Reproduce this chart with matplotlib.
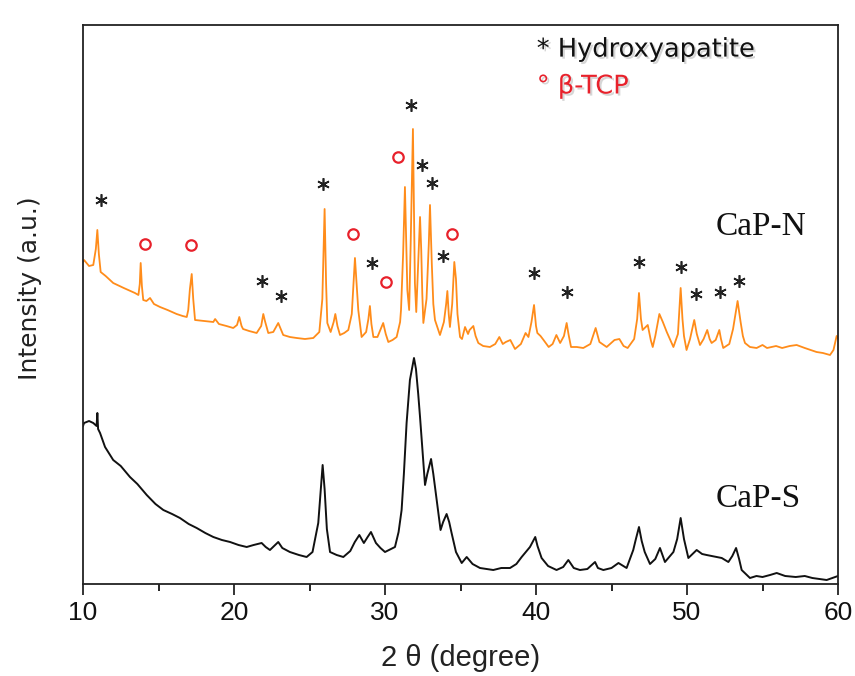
import matplotlib
matplotlib.use("Agg")
import matplotlib.pyplot as plt
import matplotlib.patheffects as pe
from matplotlib.ticker import MultipleLocator

# ---- data (intensity in arbitrary units) ----
capn_theta = [10.0, 10.07, 10.4, 10.68, 10.85, 10.95, 11.05, 11.17, 11.5, 12.0, 12.7, 13.44, 13.67, 13.76,
              13.82, 13.9, 13.99, 14.2, 14.44, 14.7, 15.1, 15.6, 16.2, 16.6, 16.87, 16.97, 17.08, 17.2, 17.3,
              17.42, 18.0, 18.63, 18.75, 19.0, 19.5, 19.95, 20.2, 20.35, 20.5, 20.6, 21.0, 21.5, 21.8, 21.94,
              22.05, 22.27, 22.6, 22.93, 23.26, 23.7, 24.15, 24.7, 25.25, 25.65, 25.85, 26.0, 26.1, 26.18,
              26.4, 26.6, 26.71, 26.85, 27.02, 27.3, 27.57, 27.8, 28.01, 28.12, 28.23, 28.45, 28.75, 28.9,
              29.0, 29.1, 29.23, 29.5, 29.88, 30.05, 30.22, 30.5, 30.77, 31.0, 31.06, 31.2, 31.32, 31.42,
              31.48, 31.6, 31.7, 31.85, 31.93, 31.98, 32.07, 32.2, 32.32, 32.4, 32.47, 32.54, 32.75, 32.9,
              32.98, 33.1, 33.2, 33.31, 33.64, 33.9, 34.05, 34.13, 34.22, 34.3, 34.45, 34.59, 34.7, 34.8,
              34.97, 35.1, 35.3, 35.5, 35.6, 35.85, 36.0, 36.18, 36.5, 36.95, 37.3, 37.57, 37.8, 38.0, 38.3,
              38.61, 39.0, 39.31, 39.5, 39.7, 39.87, 40.0, 40.09, 40.3, 40.5, 40.84, 41.1, 41.35, 41.6, 41.85,
              42.03, 42.15, 42.32, 42.7, 43.13, 43.6, 43.95, 44.2, 44.68, 45.2, 45.52, 45.8, 46.07, 46.5,
              46.7, 46.82, 46.95, 47.06, 47.4, 47.6, 47.73, 47.9, 48.17, 48.4, 48.66, 49.1, 49.4, 49.58,
              49.7, 49.8, 49.97, 50.2, 50.48, 50.65, 50.86, 51.1, 51.34, 51.5, 51.63, 51.9, 52.14, 52.25,
              52.4, 52.8, 53.05, 53.35, 53.55, 53.7, 53.84, 54.17, 54.61, 55.0, 55.3, 55.9, 56.3, 56.8,
              57.26, 57.8, 58.58, 59.0, 59.47, 59.7, 59.91, 60.0]
capn_int = [322, 324, 318, 319, 335, 354, 330, 312, 308, 301, 296, 291, 289, 300,
            321, 298, 284, 283, 286, 280, 277, 274, 270, 268, 267, 274, 295, 310, 285,
            264, 263, 262, 265, 260, 258, 256, 259, 267, 258, 255, 253, 251, 258, 270,
            263, 251, 252, 261, 249, 247, 246, 245, 246, 252, 285, 375, 300, 261,
            252, 262, 270, 258, 249, 251, 254, 270, 326, 300, 274, 247, 252, 265,
            278, 260, 247, 247, 261, 250, 242, 244, 247, 262, 274, 330, 397, 330,
            294, 274, 340, 455, 360, 301, 272, 320, 367, 334, 290, 261, 285, 340,
            379, 320, 280, 264, 249, 262, 280, 293, 270, 257, 280, 322, 305, 270,
            247, 245, 257, 250, 254, 258, 248, 241, 238, 237, 240, 247, 240, 242, 244,
            235, 240, 251, 247, 262, 279, 258, 251, 248, 244, 237, 240, 249, 241, 248,
            261, 250, 237, 237, 236, 240, 256, 242, 237, 244, 245, 238, 236, 245,
            265, 291, 265, 254, 259, 244, 237, 248, 270, 262, 252, 237, 250, 296,
            265, 248, 234, 245, 264, 250, 239, 245, 254, 245, 241, 244, 254, 245,
            236, 240, 255, 283, 262, 248, 241, 237, 236, 239, 236, 238, 236, 238,
            239, 236, 232, 231, 229, 234, 248, 246]

caps_theta = [10.0, 10.07, 10.4, 10.68, 10.9, 10.95, 11.0, 11.13, 11.46, 12.0, 12.5, 13.11, 13.6, 14.22,
              14.8, 15.32, 15.9, 16.42, 17.0, 17.53, 18.1, 18.63, 19.2, 19.74, 20.3, 20.84, 21.3, 21.83,
              22.1, 22.38, 22.93, 23.2, 23.7, 24.3, 24.81, 25.2, 25.58, 25.75, 25.87, 26.0, 26.15, 26.36,
              26.8, 27.24, 27.7, 28.0, 28.3, 28.6, 28.85, 29.07, 29.4, 29.7, 30.0, 30.66, 30.9, 31.1,
              31.25, 31.43, 31.65, 31.92, 32.05, 32.2, 32.32, 32.5, 32.65, 32.8, 33.05, 33.2, 33.42, 33.68,
              33.85, 34.08, 34.25, 34.41, 34.7, 35.08, 35.41, 35.8, 36.29, 37.17, 37.7, 38.28, 38.7, 39.05,
              39.6, 39.95, 40.1, 40.37, 40.8, 41.36, 41.8, 42.14, 42.5, 42.91, 43.4, 43.91, 44.1, 44.46,
              45.0, 45.46, 46.0, 46.44, 46.6, 46.82, 47.0, 47.2, 47.55, 47.9, 48.21, 48.54, 49.1, 49.35,
              49.58, 49.8, 50.09, 50.64, 51.0, 51.3, 51.96, 52.3, 52.74, 53.0, 53.25, 53.45, 53.62, 54.17,
              54.6, 55.0, 55.5, 55.94, 56.5, 57.2, 57.8, 58.3, 58.8, 59.25, 59.8, 60.0]
caps_int = [158, 161, 163, 161, 158, 171, 155, 151, 137, 124, 118, 107, 100, 89,
            80, 74, 70, 66, 60, 56, 51, 47, 44, 42, 39, 37, 39, 41,
            37, 34, 42, 36, 32, 29, 27, 32, 61, 95, 119, 95, 55, 32,
            29, 27, 33, 42, 49, 41, 47, 52, 41, 36, 32, 37, 52, 74,
            110, 161, 204, 226, 215, 190, 167, 130, 99, 110, 125, 110, 84, 54,
            62, 70, 62, 51, 32, 21, 27, 20, 16, 14, 16, 16, 20, 27,
            37, 47, 38, 26, 18, 14, 17, 24, 16, 14, 15, 22, 16, 14,
            16, 21, 16, 34, 44, 57, 43, 32, 20, 25, 36, 22, 32, 45,
            66, 45, 26, 34, 30, 29, 27, 26, 22, 28, 36, 25, 14, 6,
            8, 7, 9, 11, 8, 7, 8, 6, 5, 4, 7, 8]

# phase markers above CaP-N peaks
hap_theta = [11.17, 21.83, 23.11, 25.87, 29.12, 31.72, 32.43, 33.09, 33.86, 39.89, 42.03, 46.8,
             49.58, 50.57, 52.19, 53.44]
hap_int = [384, 303, 288, 400, 321, 479, 419, 401, 328, 311, 292, 322, 317, 290, 292, 303]
tcp_theta = [14.1, 17.15, 27.9, 30.07, 30.84, 34.46]
tcp_int = [340, 339, 350, 302, 427, 350]

xticks = [10, 20, 30, 40, 50, 60]
series_labels = ["CaP-N", "CaP-S"]
legend_labels = ["* Hydroxyapatite", "\u00b0 \u03b2-TCP"]

# ---- figure ----
fig = plt.figure(figsize=(8.55, 6.76), dpi=100)
ax = fig.add_axes([83 / 855, 1 - 584 / 676, (838 - 83) / 855, (584 - 25) / 676])

ax.plot(capn_theta, capn_int, color="#FF8C1A", lw=1.3, solid_joinstyle="round")
ax.plot(caps_theta, caps_int, color="#111111", lw=1.4, solid_joinstyle="round")

ax.plot(hap_theta, hap_int, linestyle="none", marker=(6, 2, 0), markersize=9,
        markeredgewidth=1.2, color="#222222")
ax.plot(tcp_theta, tcp_int, linestyle="none", marker="o", markersize=7.5,
        markerfacecolor="none", markeredgewidth=1.6, markeredgecolor="#E8212B")

ax.set_xlim(10, 60)
ax.set_ylim(0, 559)
ax.set_xticks(xticks)
ax.xaxis.set_minor_locator(MultipleLocator(5))
ax.set_yticks([])
ax.tick_params(axis="x", which="major", direction="out", length=8, width=1.2, pad=4,
               labelsize=19, colors="#111111")
ax.tick_params(axis="x", which="minor", direction="out", length=5, width=1.2)
for lab in ax.get_xticklabels():
    lab.set_family("Liberation Sans")
for s in ax.spines.values():
    s.set_linewidth(1.3)
    s.set_color("#222222")

ax.set_xlabel("2 \u03b8 (degree)", fontsize=21, family="Liberation Sans",
              labelpad=14, color="#222222")
ax.set_ylabel("Intensity (a.u.)", fontsize=18, family="DejaVu Sans", color="#222222")
ax.yaxis.set_label_coords(-0.054, 0.53)

serif = ["Liberation Serif", "DejaVu Serif"]
ax.text(0.838, 0.625, series_labels[0], transform=ax.transAxes, fontsize=24, family=serif,
        color="#111111", ha="left", va="baseline")
ax.text(0.838, 0.137, series_labels[1], transform=ax.transAxes, fontsize=24, family=serif,
        color="#111111", ha="left", va="baseline")

shadow = [pe.SimplePatchShadow(offset=(1.5, -1.5), shadow_rgbFace="#BBBBBB", alpha=0.6), pe.Normal()]
ax.text(0.601, 0.956, legend_labels[0], transform=ax.transAxes, fontsize=18.5, family="DejaVu Sans",
        color="#111111", ha="left", va="center", path_effects=shadow)
ax.text(0.601, 0.89, legend_labels[1], transform=ax.transAxes, fontsize=18.5, family="DejaVu Sans",
        color="#E8212B", ha="left", va="center", path_effects=shadow)

fig.savefig("out.png", dpi=100)
